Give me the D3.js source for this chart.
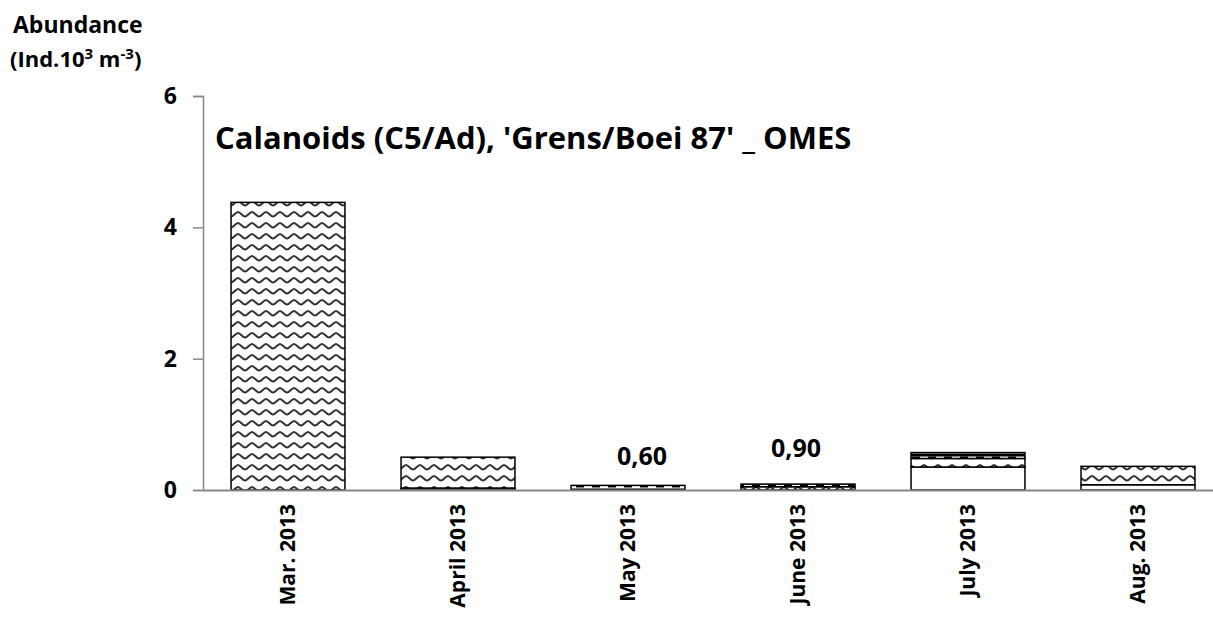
<!DOCTYPE html>
<html><head><meta charset="utf-8">
<script src="https://cdn.jsdelivr.net/npm/d3@7"></script>
<style>body{margin:0;background:#fff;} text{font-family:"Open Sans",sans-serif;font-weight:bold;}</style>
</head><body><svg id="c" width="1213" height="618"></svg>
<script>
const categories = ["Mar. 2013","April 2013","May 2013","June 2013","July 2013","Aug. 2013"];
const plainVals  = [0, 0.03, 0, 0, 0.35, 0.08];
const waveVals   = [4.38, 0.47, 0, 0.05, 0.13, 0.28];
const dashVals   = [0, 0, 0.07, 0.04, 0.09, 0];
const yTicks = [0, 2, 4, 6];
const annotations = [{cat:"May 2013", text:"0,60", v:0.38}, {cat:"June 2013", text:"0,90", v:0.50}];
const title = "Calanoids (C5/Ad), 'Grens/Boei 87' _ OMES";

const svg = d3.select("#c");
const defs = svg.append("defs");
const wp = defs.append("pattern").attr("id","wave").attr("patternUnits","userSpaceOnUse")
  .attr("width",14).attr("height",11);
wp.append("rect").attr("width",14).attr("height",11).attr("fill","#fff");
wp.append("path").attr("d","M0,3 C2.3,3 4.7,7.5 7,7.5 S11.7,3 14,3").attr("fill","none").attr("stroke","#333").attr("stroke-width",2);
const dp = defs.append("pattern").attr("id","dash").attr("patternUnits","userSpaceOnUse")
  .attr("width",16).attr("height",7);
dp.append("rect").attr("width",16).attr("height",7).attr("fill","#fff");
dp.append("rect").attr("x",0).attr("y",0).attr("width",16).attr("height",1.5).attr("fill","#000");
dp.append("rect").attr("x",0).attr("y",1.5).attr("width",8).attr("height",3).attr("fill","#000");
dp.append("rect").attr("x",0).attr("y",5.5).attr("width",16).attr("height",1.5).attr("fill","#000");

const x = d3.scaleBand().domain(categories).range([203, 1223]).paddingInner(0.33).paddingOuter(0.165);
const y = d3.scaleLinear().domain([0, 6]).range([490, 96]);

const keys = ["plain","wave","dash"];
const rows = categories.map((c,i)=>({cat:c, plain:plainVals[i], wave:waveVals[i], dash:dashVals[i]}));
const stacked = d3.stack().keys(keys)(rows);
const fills = {plain:"#fff", wave:"url(#wave)", dash:"url(#dash)"};

const yAxis = svg.append("g").attr("transform","translate(203,0)")
  .call(d3.axisLeft(y).tickValues(yTicks).tickFormat(d3.format("d")).tickSize(10).tickPadding(16));
yAxis.select(".domain").attr("stroke","#888").attr("stroke-width",1.5);
yAxis.selectAll(".tick line").attr("stroke","#888").attr("stroke-width",1.5);
yAxis.selectAll(".tick text").attr("font-size",23).attr("fill","#000").attr("font-family","Open Sans");

stacked.forEach(s=>{
  svg.append("g").selectAll("rect").data(s.filter(d=>d[1]-d[0]>0)).join("rect")
    .attr("x",d=>x(d.data.cat)).attr("width",x.bandwidth())
    .attr("y",d=>y(d[1])).attr("height",d=>y(d[0])-y(d[1]))
    .attr("fill",fills[s.key]).attr("stroke","#000").attr("stroke-width",1.5);
});

const xAxis = svg.append("g").attr("transform","translate(0,490)")
  .call(d3.axisBottom(x).tickSize(0).tickPadding(0));
xAxis.select(".domain").attr("stroke","#888").attr("stroke-width",2);
xAxis.selectAll(".tick text").attr("font-size",21).attr("fill","#000").attr("font-family","Open Sans")
  .attr("transform","rotate(-90)").attr("text-anchor","end").attr("dy","0.35em").attr("x",-14).attr("y",0);

const annDx = [14, -2];
svg.selectAll(".ann").data(annotations).join("text").attr("class","ann")
  .attr("x",(d,i)=>x(d.cat)+x.bandwidth()/2+annDx[i]).attr("y",d=>y(d.v))
  .attr("text-anchor","middle").attr("font-size",25).text(d=>d.text);

svg.append("text").attr("x",215).attr("y",149).attr("font-size",31).text(title);

svg.append("text").attr("x",13).attr("y",33).attr("font-size",23).text("Abundance");
const yl = svg.append("text").attr("x",10).attr("y",67).attr("font-size",22);
yl.append("tspan").text("(Ind.10");
yl.append("tspan").attr("font-size",15).attr("dy",-8).text("3");
yl.append("tspan").attr("dy",8).text(" m");
yl.append("tspan").attr("font-size",15).attr("dy",-8).text("-3");
yl.append("tspan").attr("dy",8).text(")");
</script></body></html>
